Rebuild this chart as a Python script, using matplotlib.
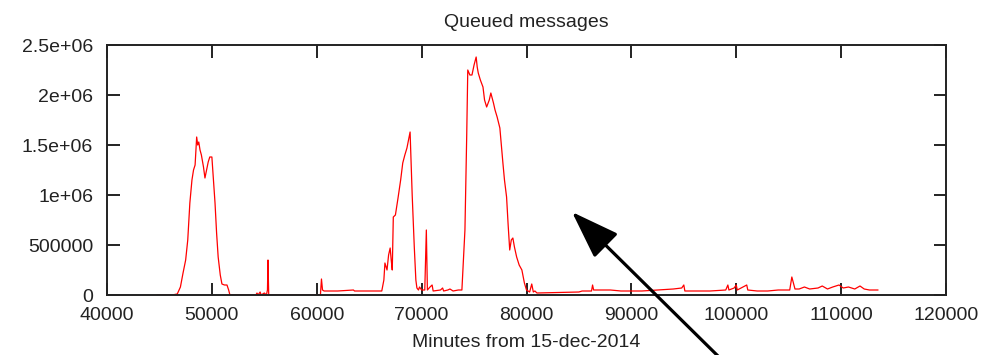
import matplotlib
matplotlib.use("Agg")
import matplotlib.pyplot as plt
import numpy as np

plt.rcParams['font.family'] = ['Liberation Sans', 'DejaVu Sans']

# minutes from 15-dec-2014 and queued messages (millions)
minutes = [44800, 45500, 46200, 46700, 47000, 47250, 47500, 47700, 47900, 48100,
           48250, 48400, 48550, 48650, 48750, 48870, 49000, 49200, 49340, 49500,
           49650, 49800, 50000, 50150, 50300, 50450, 50600, 50800, 50960, 51200,
           51440, 51600, 51720, 54200, 54300, 54400, 54600, 54700, 55000, 55200,
           55300, 55350, 55420, 60350, 60450, 60550, 60700, 62000, 63500, 63600,
           66200, 66400, 66500, 66700, 66850, 67000, 67100, 67200, 67300, 67500,
           67750, 68000, 68200, 68400, 68600, 68750, 68900, 69100, 69300, 69450,
           69550, 69700, 69800, 70000, 70300, 70450, 70550, 70800, 71000, 71100,
           71800, 72000, 72100, 72500, 72700, 73000, 73500, 73840, 74130, 74300,
           74400, 74600, 74800, 75000, 75200, 75300, 75400, 75600, 75850, 76000,
           76200, 76450, 76600, 76700, 76850, 77000, 77200, 77460, 77600, 77750,
           77900, 78100, 78250, 78400, 78550, 78700, 78850, 79060, 79300, 79560,
           79800, 80000, 80300, 80500, 80650, 80800, 81000, 85000, 85300, 86200,
           86300, 86400, 88000, 89000, 91000, 92500, 94000, 94800, 95000, 95100,
           96000, 97500, 99000, 99200, 99300, 99800, 100000, 100100, 101000, 101100,
           102000, 103000, 104000, 105100, 105300, 105450, 105600, 106000, 106500, 107000,
           107800, 108200, 108700, 109200, 109800, 110200, 110700, 111300, 111800, 112200,
           112700, 113500]
queued = [0.0, 0.0, 0.0, 0.01, 0.08, 0.22, 0.35, 0.55, 0.92, 1.15,
          1.25, 1.30, 1.58, 1.50, 1.53, 1.45, 1.40, 1.28, 1.17, 1.25,
          1.33, 1.38, 1.38, 1.15, 0.92, 0.62, 0.38, 0.20, 0.11, 0.10,
          0.10, 0.05, 0.0, 0.0, 0.02, 0.0, 0.03, 0.0, 0.02, 0.0,
          0.05, 0.35, 0.0, 0.0, 0.16, 0.05, 0.04, 0.04, 0.05, 0.04,
          0.04, 0.15, 0.32, 0.25, 0.40, 0.47, 0.35, 0.25, 0.78, 0.80,
          0.97, 1.15, 1.32, 1.40, 1.47, 1.55, 1.63, 1.00, 0.48, 0.15,
          0.07, 0.05, 0.08, 0.05, 0.05, 0.65, 0.05, 0.08, 0.10, 0.04,
          0.05, 0.07, 0.04, 0.05, 0.06, 0.04, 0.05, 0.05, 0.65, 1.60,
          2.25, 2.20, 2.20, 2.30, 2.38, 2.28, 2.22, 2.15, 2.08, 1.95,
          1.88, 1.95, 2.02, 1.98, 1.92, 1.85, 1.78, 1.67, 1.50, 1.32,
          1.15, 0.98, 0.70, 0.45, 0.55, 0.57, 0.48, 0.38, 0.30, 0.25,
          0.12, 0.05, 0.03, 0.11, 0.03, 0.04, 0.02, 0.03, 0.04, 0.04,
          0.10, 0.05, 0.05, 0.04, 0.04, 0.05, 0.06, 0.07, 0.10, 0.04,
          0.04, 0.04, 0.05, 0.10, 0.05, 0.07, 0.10, 0.05, 0.10, 0.05,
          0.04, 0.04, 0.05, 0.05, 0.18, 0.12, 0.06, 0.06, 0.08, 0.06,
          0.07, 0.09, 0.06, 0.08, 0.10, 0.07, 0.08, 0.06, 0.09, 0.06,
          0.05, 0.05]

xticks = [40000, 50000, 60000, 70000, 80000, 90000, 100000, 110000, 120000]
yticks = [0, 500000, 1000000, 1500000, 2000000, 2500000]
ytick_labels = ['0', '500000', '1e+06', '1.5e+06', '2e+06', '2.5e+06']

# arrow annotation (data coords): tip and tail
arrow_tip = (84338, 0.83e6)
arrow_tail = (98641, -0.65e6)

fig = plt.figure(figsize=(10.03, 3.55), dpi=100)
ax = fig.add_axes([107 / 1003, 60 / 355, 839 / 1003, 250 / 355])

ax.plot(minutes, np.array(queued) * 1e6, color='#ff0000', lw=0.9)

ax.set_xlim(40000, 120000)
ax.set_ylim(0, 2.5e6)
ax.set_xticks(xticks)
ax.set_xticklabels([str(t) for t in xticks])
ax.set_yticks(yticks)
ax.set_yticklabels(ytick_labels)
ax.tick_params(direction='in', length=9, width=1.4, top=True, right=True,
               labelsize=14, pad=9, colors='#222222')
ax.tick_params(axis='y', pad=10)
for s in ax.spines.values():
    s.set_linewidth(1.4)
    s.set_color('#222222')

ax.set_title('Queued messages', fontsize=14, pad=13, color='#222222')
ax.set_xlabel('Minutes from 15-dec-2014', fontsize=14, labelpad=7, color='#222222')

ax.annotate('', xy=arrow_tip, xytext=arrow_tail, xycoords='data', textcoords='data',
            annotation_clip=False,
            arrowprops=dict(arrowstyle='-|>,head_length=3.0,head_width=1.05',
                            mutation_scale=10, lw=2.3, color='black',
                            shrinkA=0, shrinkB=0))

fig.savefig('out.png', dpi=100)
